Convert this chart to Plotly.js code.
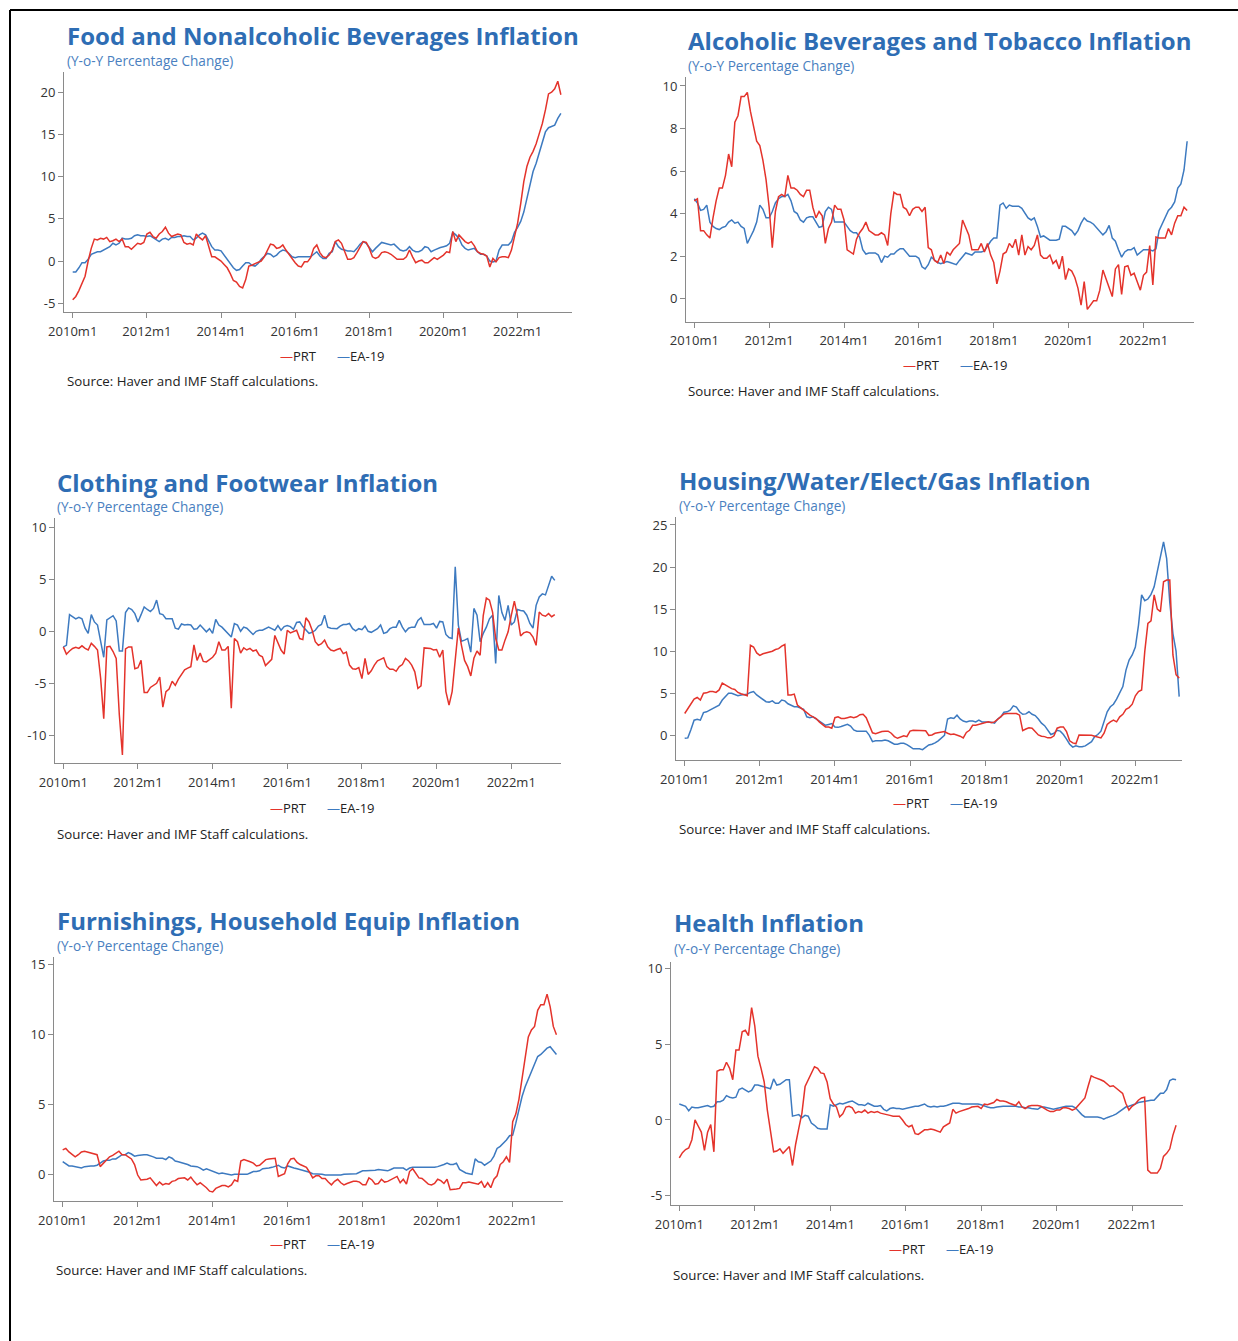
<!DOCTYPE html>
<html>
<head>
<meta charset="utf-8">
<script src="https://cdn.plot.ly/plotly-3.0.1.min.js"></script>
<style>
  html, body { margin: 0; padding: 0; background: #fff; }
  #chart { width: 1238px; height: 1341px; }
</style>
</head>
<body>
<div id="chart"></div>
<script>
'use strict';

// Monthly y-o-y % change, 2010m1 .. 2023m3 (159 months)
const foodPRT = [
  -4.6, -4.2, -3.5, -2.7, -1.8, 0.0, 1.5, 2.6, 2.5, 2.7, 2.6, 2.8,
  2.3, 2.4, 2.6, 2.3, 2.6, 1.7, 1.7, 1.4, 1.8, 2.1, 2.0, 2.2,
  3.2, 3.4, 2.9, 2.7, 3.2, 3.5, 4.0, 3.3, 2.9, 3.1, 3.2, 3.1,
  2.2, 2.0, 2.1, 1.9, 3.2, 2.8, 2.5, 3.0, 1.8, 0.5, 0.5, 0.3,
  0.0, -0.4, -0.8, -1.5, -2.3, -2.5, -3.0, -3.2, -2.2, -0.6, -0.5, -0.3,
  -0.1, 0.0, 0.5, 1.3, 2.0, 1.9, 1.5, 1.6, 1.9, 1.3, 0.8, 0.2,
  -0.2, -0.6, -0.7, -0.1, -0.1, 0.4, 1.5, 1.9, 1.0, 0.5, 0.4, 0.7,
  1.3, 2.3, 2.5, 2.1, 1.1, 0.2, 0.2, 0.4, 1.0, 1.7, 2.3, 2.2,
  1.5, 0.5, 0.3, 0.5, 1.0, 1.1, 1.0, 0.8, 0.5, 0.2, 0.2, 0.2,
  0.5, 1.3, 0.5, -0.2, 0.0, 0.1, -0.2, -0.2, 0.1, 0.4, 0.2, 0.4,
  0.7, 1.1, 1.0, 3.5, 2.3, 3.1, 2.7, 2.3, 2.1, 2.3, 1.8, 1.1,
  0.9, 0.8, 0.6, -0.7, 0.3, -0.1, 0.4, 0.5, 0.5, 0.4, 1.3, 3.1,
  4.5, 6.8, 9.4, 11.2, 12.3, 13.0, 13.9, 15.1, 16.3, 17.9, 19.8, 20.0,
  20.4, 21.3, 19.7
];
const foodEA = [
  -1.3, -1.3, -0.8, -0.2, -0.2, 0.2, 0.8, 1.0, 1.1, 1.1, 1.3, 1.5,
  1.7, 2.1, 1.9, 2.1, 2.7, 2.6, 2.6, 2.7, 3.0, 3.1, 3.0, 3.0,
  2.9, 3.0, 2.8, 2.6, 2.3, 2.6, 2.7, 2.5, 2.8, 2.8, 2.9, 2.9,
  3.0, 2.9, 2.9, 2.5, 2.7, 3.1, 3.3, 3.1, 2.3, 1.7, 1.3, 1.3,
  1.2, 0.7, 0.3, -0.3, -0.8, -1.1, -1.0, -0.6, -0.2, -0.2, -0.5, -0.6,
  -0.3, 0.2, 0.6, 0.9, 0.8, 0.5, 0.7, 1.1, 1.3, 1.2, 0.9, 0.5,
  0.4, 0.5, 0.5, 0.5, 0.5, 0.5, 0.8, 1.1, 0.6, 0.3, 0.3, 0.9,
  1.1, 2.3, 1.7, 1.4, 1.3, 1.2, 1.2, 1.1, 1.5, 2.0, 2.3, 2.1,
  1.6, 1.1, 1.5, 1.9, 2.2, 2.1, 2.0, 1.9, 2.0, 1.6, 1.3, 1.2,
  1.3, 1.7, 1.3, 1.1, 1.1, 1.3, 1.7, 1.6, 1.1, 1.3, 1.5, 1.6,
  1.7, 1.8, 2.1, 3.4, 3.1, 2.7, 1.9, 1.5, 1.3, 1.4, 1.5, 1.1,
  0.8, 0.8, 0.6, 0.0, -0.1, 0.0, 1.3, 1.9, 1.9, 1.9, 2.3, 3.4,
  4.0, 4.7, 5.8, 7.4, 9.2, 10.6, 11.6, 12.8, 14.2, 15.3, 15.8, 16.0,
  16.1, 16.9, 17.5
];

const alcPRT = [
  4.6, 4.7, 3.2, 3.2, 3.0, 2.85, 3.8, 4.6, 5.2, 5.2, 5.8, 6.8,
  6.2, 8.3, 8.6, 9.5, 9.5, 9.7, 8.8, 8.1, 7.4, 7.2, 6.5, 5.6,
  4.3, 2.4, 4.1, 4.8, 4.9, 4.8, 5.8, 5.2, 5.2, 5.1, 4.9, 4.8,
  5.1, 5.1, 4.3, 3.8, 4.1, 3.9, 2.6, 3.3, 3.6, 4.4, 4.2, 4.2,
  3.7, 2.3, 2.2, 2.1, 2.8, 3.1, 3.3, 3.6, 3.2, 3.1, 3.0, 3.0,
  3.1, 3.0, 2.5, 4.0, 5.0, 4.9, 4.9, 4.3, 4.2, 3.9, 4.2, 4.3,
  4.3, 4.1, 4.3, 2.4, 2.3, 1.8, 1.7, 2.05, 1.65, 2.2, 2.05, 2.3,
  2.45, 2.6, 3.7, 3.3, 3.0, 2.3, 2.3, 2.3, 2.6, 2.2, 2.6, 2.05,
  1.7, 0.7, 1.3, 2.1, 2.2, 2.6, 2.4, 2.8, 2.05, 3.0, 2.05, 2.45,
  2.3, 2.5, 3.0, 2.05, 1.9, 1.9, 2.05, 1.65, 1.8, 1.4, 2.0, 0.9,
  1.4, 1.3, 1.0, 0.5, -0.3, 0.8, -0.5, -0.3, -0.1, -0.1, 0.4, 1.35,
  0.95, 0.5, 0.1, 1.4, 1.6, 0.2, 1.5, 1.55, 1.1, 1.2, 0.8, 0.4,
  1.1, 1.25, 2.5, 0.65, 2.9, 2.85, 2.85, 2.85, 3.3, 3.0, 3.55, 3.9,
  3.9, 4.3, 4.15
];
const alcEA = [
  4.7, 4.5, 4.15, 4.2, 4.4, 3.6, 3.4, 3.3, 3.25, 3.35, 3.4, 3.6,
  3.7, 3.55, 3.6, 3.4, 3.3, 2.6, 2.9, 3.2, 3.6, 4.4, 4.2, 3.8,
  3.8, 4.1, 4.5, 4.7, 4.8, 4.8, 4.9, 4.6, 4.1, 4.0, 3.7, 3.6,
  3.8, 3.85, 3.85, 3.6, 3.35, 3.4, 4.1, 4.3, 4.2, 3.6, 3.6, 3.6,
  3.6, 3.4, 3.2, 3.1, 3.1, 2.9, 2.3, 2.1, 2.15, 2.15, 2.15, 2.05,
  1.7, 2.0, 1.95, 2.1, 2.1, 2.25, 2.35, 2.35, 2.2, 2.0, 2.0, 2.0,
  1.9, 1.5, 1.4, 1.6, 1.95, 1.8, 1.7, 1.65, 1.7, 1.75, 1.7, 1.65,
  1.6, 1.8, 2.0, 2.15, 2.1, 2.05, 2.2, 2.2, 2.2, 2.25, 2.5, 2.7,
  2.85, 2.85, 4.4, 4.5, 4.25, 4.4, 4.35, 4.35, 4.35, 4.25, 4.0, 3.8,
  3.7, 3.8, 3.4, 2.9, 2.95, 2.85, 2.75, 2.75, 2.75, 2.8, 3.4, 3.4,
  3.3, 3.2, 3.0, 3.2, 3.55, 3.8, 3.65, 3.6, 3.5, 3.35, 3.2, 3.0,
  3.15, 3.45, 2.85, 2.7, 2.3, 1.95, 2.2, 2.3, 2.3, 2.4, 2.05, 2.2,
  2.3, 2.3, 2.3, 2.25, 2.35, 3.2, 3.5, 3.85, 4.15, 4.3, 4.55, 5.2,
  5.4, 6.05, 7.4
];

const clothPRT = [
  -1.5, -2.2, -1.9, -1.65, -1.55, -1.65, -1.4, -1.65, -1.8, -1.15, -1.45, -1.8,
  -4.5, -8.4, -1.5, -1.45, -1.95, -2.6, -8.0, -11.9, -1.7, -1.5, -1.5, -3.6,
  -3.5, -2.8, -5.9, -5.9, -5.4, -5.2, -5.0, -4.4, -7.3, -5.8, -5.55, -4.8,
  -5.2, -4.6, -4.2, -3.7, -3.55, -3.4, -1.3, -2.8, -2.1, -2.9, -2.95, -2.7,
  -2.5, -2.1, -1.0, -1.8, -1.8, -1.45, -7.4, -0.7, -1.0, -2.1, -1.6, -1.8,
  -1.65, -1.9, -1.8, -2.3, -2.45, -3.3, -2.95, -2.7, -0.4, -1.2, -1.8, -2.2,
  0.1, -0.15, 0.0, 0.1, -0.7, -0.8, 1.3, 0.9, 0.1, -1.0, -1.35, -1.2,
  -0.85, -1.5, -1.8, -1.9, -1.75, -1.65, -2.15, -2.0, -3.25, -3.6, -3.65, -3.5,
  -4.55, -2.6, -4.15, -3.8, -3.25, -2.85, -2.7, -2.55, -3.4, -3.65, -3.65, -3.85,
  -3.4, -3.2, -2.6, -2.85, -3.25, -3.9, -5.5, -5.25, -1.6, -1.65, -1.65, -1.8,
  -1.75, -2.5, -1.8, -5.8, -7.1, -5.8, -2.95, 0.3, -1.35, -2.8, -3.4, -4.3,
  -2.6, -1.9, -2.3, 1.5, 3.2, 3.0, 1.85, -0.7, -1.8, -1.8, -0.85, -0.05,
  1.5, 2.9, 1.5, -0.45, -0.15, -0.05, -0.15, -0.55, -1.35, 1.85, 1.55, 1.45,
  1.7, 1.4, 1.6
];
const clothEA = [
  -1.5, -1.35, 1.6, 1.4, 1.2, 1.35, 1.2, 0.3, -0.2, 1.6, 0.9, 0.6,
  -1.0, -2.5, 1.1, 1.3, 1.5, 1.0, -1.9, -1.9, 1.8, 2.25, 2.1, 1.7,
  0.9, 1.6, 2.35, 2.1, 1.9, 2.2, 3.0, 1.7, 1.6, 1.2, 1.2, 1.2,
  0.3, 0.2, 0.7, 0.6, 0.65, 0.6, 0.2, 0.25, 0.6, 0.25, -0.05, 0.25,
  -0.2, 1.15, 0.6, 0.4, 0.1, -0.2, -0.55, 0.75, 0.6, 0.0, 0.4, 0.3,
  0.0, -0.3, 0.0, 0.1, 0.1, 0.25, 0.4, 0.25, 0.1, 0.55, 0.1, 0.45,
  0.55, 0.45, 0.2, 0.85, 0.9, 0.45, 0.1, -0.2, -0.1, 0.1, 0.5, 0.65,
  1.55, 0.4, 0.3, 0.3, 0.25, 0.5, 0.65, 0.65, 0.75, 0.25, 0.05, 0.25,
  0.15, 0.5, 0.0, -0.1, 0.05, 0.25, 0.6, -0.2, -0.1, 0.25, 0.4, 0.4,
  1.05, 0.4, -0.05, 0.3, 0.4, 0.4, 1.05, 1.3, 0.65, 0.65, 0.65, 0.75,
  0.3, 0.95, 0.9, -0.3, -0.6, -0.7, 6.2, 0.6, -0.95, -0.85, -0.7, -2.0,
  2.2, 1.55, -1.0, -0.2, 0.4, 1.2, 1.55, -3.1, 3.45, 1.8, 1.05, 2.5,
  0.6, 0.9, 2.1, 2.0, 1.95, 1.55, 0.75, 0.3, 2.5, 3.3, 3.6, 3.5,
  4.5, 5.3, 4.9
];

const housPRT = [
  2.6, 3.2, 3.8, 4.3, 4.5, 4.2, 5.0, 5.05, 5.2, 5.2, 5.1, 5.4,
  6.2, 6.0, 5.7, 5.55, 5.45, 5.1, 4.95, 4.85, 4.7, 10.7, 10.5, 9.8,
  9.5, 9.7, 9.8, 9.9, 10.0, 10.2, 10.3, 10.6, 10.8, 4.8, 4.8, 4.9,
  3.6, 3.3, 3.0, 2.6, 2.4, 2.2, 2.0, 1.6, 1.3, 1.0, 1.0, 0.85,
  2.1, 2.2, 2.0, 2.0, 2.1, 2.2, 2.1, 2.2, 2.45, 2.5, 2.1, 1.2,
  0.3, 0.2, 0.35, 0.45, 0.5, 0.5, 0.25, -0.15, -0.35, -0.2, -0.05, -0.15,
  0.5, 0.6, 0.6, 0.6, 0.6, 0.55, 0.0, 0.05, 0.25, 0.3, 0.4, 0.45,
  0.25, 0.1, 0.15, 0.05, -0.1, -0.3, 0.35, 0.6, 1.2, 1.2, 1.3, 1.4,
  1.5, 1.6, 1.5, 1.6, 1.9, 2.2, 2.55, 2.6, 2.6, 2.6, 2.6, 2.4,
  0.55, 0.75, 0.9, 0.85, 0.5, 0.05, -0.1, -0.15, -0.3, -0.3, -0.05, 0.85,
  1.0, 1.0, 0.45, -0.65, -0.9, -1.0, 0.05, 0.05, 0.05, 0.0, 0.0, -0.1,
  -0.2, -0.3, 0.25, 1.3, 1.6, 1.8, 1.6, 2.2, 2.5, 3.1, 3.3, 3.7,
  4.7, 5.2, 5.4, 9.95, 13.3, 13.6, 16.7, 15.0, 14.7, 18.25, 18.45, 18.45,
  9.55, 7.2, 6.8
];
const housEA = [
  -0.35, -0.3, 0.7, 1.8, 1.9, 1.8, 2.7, 2.8, 3.0, 3.2, 3.3, 3.6,
  4.2, 4.6, 5.0, 5.0, 4.8, 4.7, 4.8, 4.85, 4.9, 5.1, 5.2, 4.8,
  4.5, 4.3, 4.0, 3.95, 4.1, 3.8, 3.8, 4.2, 4.1, 3.75, 3.55, 3.4,
  3.4, 3.2, 3.1, 2.2, 2.1, 2.2, 1.95, 1.8, 1.5, 1.2, 1.3, 1.4,
  1.0, 0.95, 1.05, 1.2, 1.3, 1.1, 0.65, 0.5, 0.5, 0.5, 0.5, 0.0,
  -0.75, -0.65, -0.65, -0.65, -0.55, -0.65, -0.85, -1.05, -1.05, -0.95, -0.95, -1.1,
  -1.35, -1.6, -1.6, -1.6, -1.7, -1.45, -1.15, -1.05, -0.9, -0.65, -0.3, 0.0,
  1.95, 2.1, 2.0, 2.4, 1.95, 1.7, 1.6, 1.7, 1.7, 1.6, 1.8, 1.6,
  1.6, 1.6, 1.55, 1.45, 1.95, 2.2, 2.75, 2.8, 3.0, 3.5, 3.35, 2.8,
  2.5, 2.55, 2.8, 2.5, 2.35, 1.95, 1.45, 1.15, 0.65, 0.1, 0.25, 0.6,
  0.5, 0.1, -0.45, -1.05, -1.4, -1.25, -1.35, -1.35, -1.25, -1.05, -0.75, -0.15,
  0.1, 0.5, 1.7, 2.8, 3.4, 3.7, 4.3, 5.1, 5.8, 7.75, 8.95, 9.55,
  10.5, 13.1, 16.7, 16.0, 16.2, 16.75, 17.65, 19.45, 21.35, 23.0, 21.0, 15.8,
  12.1, 10.0, 4.6
];

const furnPRT = [
  1.75, 1.85, 1.6, 1.4, 1.25, 1.4, 1.6, 1.65, 1.6, 1.5, 1.45, 1.4,
  0.55, 0.8, 1.0, 1.25, 1.35, 1.5, 1.65, 1.4, 1.4, 1.25, 1.1, 0.7,
  -0.05, -0.4, -0.4, -0.35, -0.25, -0.5, -0.8, -0.55, -0.75, -0.65, -0.7, -0.5,
  -0.45, -0.3, -0.25, -0.25, -0.4, -0.2, -0.5, -0.75, -0.6, -0.75, -0.95, -1.2,
  -1.25, -1.0, -0.9, -0.8, -0.8, -0.9, -0.75, -0.4, -0.5, 0.95, 1.05, 1.0,
  0.9, 0.8, 0.6, 0.65, 0.85, 1.05, 1.1, 1.1, 1.15, -0.15, -0.05, 0.05,
  0.75, 1.1, 1.15, 0.85, 0.7, 0.6, 0.5, 0.15, -0.25, -0.1, -0.1, -0.3,
  -0.3, -0.55, -0.75, -0.5, -0.35, -0.6, -0.75, -0.65, -0.55, -0.5, -0.5, -0.55,
  -0.75, -0.75, -0.25, -0.4, -0.7, -0.65, -0.35, -0.55, -0.5, -0.4, -0.3, -0.15,
  -0.6, -0.35, -0.7, 0.2, 0.4, 0.05, -0.25, -0.3, -0.5, -0.7, -0.75, -0.65,
  -0.35, -0.45, -0.65, -0.35, -1.1, -1.1, -1.05, -1.0, -0.6, -0.6, -0.55, -0.6,
  -0.65, -0.7, -0.5, -0.95, -0.6, -0.95, -0.35, -0.1, 0.7, 0.9, 1.25, 0.85,
  3.75, 4.3, 5.35, 6.85, 8.5, 9.8, 10.3, 10.55, 11.7, 12.1, 12.1, 12.85,
  11.95, 10.55, 9.95
];
const furnEA = [
  0.9, 0.75, 0.6, 0.6, 0.55, 0.5, 0.45, 0.55, 0.6, 0.6, 0.6, 0.65,
  0.8, 0.95, 1.0, 1.0, 1.1, 1.1, 1.25, 1.4, 1.4, 1.55, 1.45, 1.3,
  1.35, 1.4, 1.4, 1.4, 1.35, 1.25, 1.15, 1.15, 1.15, 1.05, 1.25, 1.15,
  0.95, 0.9, 0.85, 0.8, 0.7, 0.6, 0.6, 0.55, 0.45, 0.3, 0.4, 0.3,
  0.25, 0.1, 0.05, 0.1, 0.05, 0.0, -0.05, 0.0, 0.0, 0.0, -0.05, 0.0,
  0.1, 0.2, 0.2, 0.25, 0.4, 0.4, 0.45, 0.5, 0.55, 0.65, 0.5, 0.45,
  0.6, 0.5, 0.45, 0.4, 0.35, 0.3, 0.25, 0.15, 0.05, 0.05, 0.0, 0.0,
  -0.05, -0.05, -0.1, -0.1, -0.1, -0.05, 0.0, 0.0, 0.05, 0.05, 0.05, 0.15,
  0.25, 0.25, 0.25, 0.25, 0.3, 0.35, 0.3, 0.25, 0.25, 0.35, 0.45, 0.45,
  0.45, 0.45, 0.3, 0.45, 0.5, 0.5, 0.45, 0.45, 0.45, 0.5, 0.5, 0.5,
  0.55, 0.6, 0.7, 0.8, 0.7, 0.7, 0.8, 0.35, 0.2, 0.1, 0.05, 0.0,
  1.1, 0.9, 0.85, 0.65, 0.8, 0.95, 1.3, 1.85, 2.0, 2.2, 2.45, 2.75,
  2.8, 3.65, 4.6, 5.55, 6.25, 6.8, 7.3, 7.85, 8.4, 8.55, 8.75, 9.0,
  9.1, 8.85, 8.55
];

const healthPRT = [
  -2.5, -2.15, -1.95, -1.85, -1.3, 0.0, -0.4, -0.8, -2.0, -0.8, -0.3, -2.1,
  3.2, 3.3, 3.3, 3.8, 3.4, 2.65, 4.6, 4.6, 5.8, 5.9, 5.55, 7.4,
  6.2, 4.2, 3.4, 2.5, 0.65, -0.9, -2.1, -2.05, -1.9, -2.2, -2.0, -1.75,
  -3.0, -1.6, -0.55, 0.45, 2.2, 2.6, 3.0, 3.5, 3.4, 3.1, 3.05, 2.5,
  1.4, 1.05, 0.85, 0.2, 0.4, 0.85, 0.9, 0.8, 0.45, 0.55, 0.5, 0.65,
  0.45, 0.55, 0.5, 0.55, 0.45, 0.4, 0.4, 0.3, 0.25, 0.25, 0.25, 0.0,
  -0.3, -0.45, -0.35, -0.9, -0.95, -0.8, -0.65, -0.65, -0.6, -0.65, -0.7, -0.8,
  -0.45, -0.3, -0.2, 0.7, 0.45, 0.55, 0.6, 0.7, 0.75, 0.85, 0.9, 0.9,
  0.75, 1.05, 1.0, 1.1, 1.15, 1.35, 1.25, 1.25, 1.2, 1.1, 1.0, 0.95,
  1.2, 0.85, 0.75, 0.9, 0.95, 0.95, 0.95, 0.9, 0.75, 0.65, 0.55, 0.55,
  0.65, 0.65, 0.8, 0.8, 0.75, 0.65, 0.75, 1.0, 1.2, 1.45, 2.2, 2.9,
  2.8, 2.75, 2.65, 2.55, 2.4, 2.2, 2.25, 2.1, 1.9, 1.75, 1.1, 0.65,
  0.9, 1.05, 1.3, 1.45, 1.5, -3.3, -3.5, -3.5, -3.5, -3.2, -2.4, -2.2,
  -1.9, -1.0, -0.35
];
const healthEA = [
  1.05, 0.95, 0.9, 0.6, 0.85, 0.8, 0.8, 0.85, 0.9, 0.95, 0.85, 0.9,
  1.2, 1.2, 1.3, 1.6, 1.5, 1.45, 1.5, 2.0, 2.1, 2.0, 1.85, 1.95,
  2.3, 2.3, 2.25, 2.2, 2.15, 2.05, 2.7, 2.3, 2.35, 2.5, 2.65, 2.65,
  0.25, 0.3, 0.35, 0.15, 0.3, 0.25, -0.2, -0.35, -0.55, -0.6, -0.6, -0.6,
  1.0, 0.9, 1.0, 1.1, 1.05, 1.15, 1.2, 1.25, 1.1, 1.0, 1.0, 0.95,
  1.1, 1.0, 0.9, 0.9, 0.95, 0.7, 0.6, 0.75, 0.8, 0.75, 0.75, 0.7,
  0.75, 0.85, 0.9, 0.9, 0.9, 1.0, 1.05, 0.9, 0.85, 0.9, 0.85, 0.9,
  0.9, 0.95, 1.05, 1.1, 1.1, 1.1, 1.05, 1.05, 1.05, 1.05, 1.05, 1.05,
  1.0, 0.9, 0.85, 0.8, 0.8, 0.85, 0.9, 0.9, 0.9, 0.9, 0.9, 0.9,
  0.85, 0.85, 0.8, 0.8, 0.75, 0.7, 0.7, 0.85, 0.85, 0.8, 0.75, 0.7,
  0.75, 0.8, 0.9, 0.9, 0.9, 0.9, 0.8, 0.55, 0.35, 0.2, 0.2, 0.2,
  0.2, 0.2, 0.15, 0.05, 0.15, 0.2, 0.3, 0.4, 0.55, 0.75, 0.85, 0.9,
  0.95, 1.05, 1.15, 1.2, 1.2, 1.25, 1.3, 1.3, 1.55, 1.75, 1.75, 2.0,
  2.6, 2.7, 2.65
];

const xTickLabels = ['2010m1', '2012m1', '2014m1', '2016m1', '2018m1', '2020m1', '2022m1'];
const seriesNames = ['PRT', 'EA-19'];
const subtitle = '(Y-o-Y Percentage Change)';
const sourceNote = 'Source: Haver and IMF Staff calculations.';

const W = 1238;
const H = 1341;
const RED = '#e4332b';
const BLUE = '#3d7ac0';
const TITLE_BLUE = '#2e6db4';
const SUB_BLUE = '#4a7fc0';
const FONT = '"Open Sans", "Noto Sans", sans-serif';

// pixel boxes of each plot area and where its texts sit
const panels = [
  {title: 'Food and Nonalcoholic Beverages Inflation', prt: foodPRT, ea: foodEA,
    box: [64, 572, 72, 312], xr: [-2.82, 161.6], yr: [-6.04, 22.4], yticks: [-5, 0, 5, 10, 15, 20],
    tx: 67, ty: 36, sy: 61, lx: 280, ly: 356, srcx: 67, srcy: 381},
  {title: 'Alcoholic Beverages and Tobacco Inflation', prt: alcPRT, ea: alcEA,
    box: [686, 1194, 77, 321.7], xr: [-2.66, 160.2], yr: [-1.08, 10.42], yticks: [0, 2, 4, 6, 8, 10],
    tx: 688, ty: 41, sy: 66, lx: 903, ly: 365, srcx: 688, srcy: 391},
  {title: 'Clothing and Footwear Inflation', prt: clothPRT, ea: clothEA,
    box: [55, 561, 518, 763.3], xr: [-2.67, 160.0], yr: [-12.7, 10.9], yticks: [-10, -5, 0, 5, 10],
    tx: 57, ty: 482, sy: 507, lx: 270, ly: 808, srcx: 57, srcy: 834},
  {title: 'Housing/Water/Elect/Gas Inflation', prt: housPRT, ea: housEA,
    box: [676, 1182, 517, 760], xr: [-2.78, 158.9], yr: [-2.93, 25.95], yticks: [0, 5, 10, 15, 20, 25],
    tx: 679, ty: 480, sy: 505, lx: 893, ly: 803, srcx: 679, srcy: 829},
  {title: 'Furnishings, Household Equip Inflation', prt: furnPRT, ea: furnEA,
    box: [54, 563, 957, 1201], xr: [-2.78, 160.1], yr: [-1.9, 15.5], yticks: [0, 5, 10, 15],
    tx: 57, ty: 920, sy: 945, lx: 270, ly: 1244, srcx: 56, srcy: 1270},
  {title: 'Health Inflation', prt: healthPRT, ea: healthEA,
    box: [671, 1183, 962, 1205], xr: [-2.64, 160.2], yr: [-5.6, 10.4], yticks: [-5, 0, 5, 10],
    tx: 674, ty: 922, sy: 948, lx: 889, ly: 1249, srcx: 673, srcy: 1275},
];

const px = x => x / W;
const py = y => 1 - y / H;

// annotations carry ~2px of padding, so pull them left to land on the given pixel
function textNote(text, x, y, font) {
  return {
    text, xref: 'paper', yref: 'paper', x: px(x - 2), y: py(y),
    xanchor: 'left', yanchor: 'middle', showarrow: false, font,
  };
}

function main() {
  const months = foodPRT.map((_, i) => i);
  const xTickVals = xTickLabels.map((_, i) => i * 24);
  const traces = [];
  const annotations = [];
  const layout = {
    width: W, height: H,
    margin: {l: 0, r: 0, t: 0, b: 0},
    paper_bgcolor: '#fff', plot_bgcolor: '#fff',
    showlegend: false,
    font: {family: FONT, size: 13, color: '#333'},
    shapes: [
      {type: 'line', xref: 'paper', yref: 'paper', x0: px(10), x1: 1, y0: py(10), y1: py(10),
        line: {color: '#000', width: 2}},
      {type: 'line', xref: 'paper', yref: 'paper', x0: px(10), x1: px(10), y0: py(10), y1: 0,
        line: {color: '#000', width: 2}},
    ],
  };

  panels.forEach((p, i) => {
    const n = i === 0 ? '' : String(i + 1);
    const [l, r, t, b] = p.box;
    layout['xaxis' + n] = {
      domain: [px(l), px(r)], anchor: 'y' + n, range: p.xr,
      tickvals: xTickVals, ticktext: xTickLabels,
      showline: true, linecolor: '#8a8a8a', linewidth: 1,
      ticks: 'outside', ticklen: 5, tickcolor: '#8a8a8a', ticklabelstandoff: 2,
      showgrid: false, zeroline: false,
      tickfont: {family: FONT, size: 13, color: '#333'},
    };
    layout['yaxis' + n] = {
      domain: [py(b), py(t)], anchor: 'x' + n, range: p.yr,
      tickvals: p.yticks, ticktext: p.yticks.map(String),
      showline: true, linecolor: '#8a8a8a', linewidth: 1,
      ticks: 'outside', ticklen: 5, tickcolor: '#8a8a8a',
      showgrid: false, zeroline: false,
      tickfont: {family: FONT, size: 13, color: '#333'},
    };
    traces.push({
      x: months, y: p.ea, type: 'scatter', mode: 'lines', name: seriesNames[1],
      xaxis: 'x' + n, yaxis: 'y' + n, line: {color: BLUE, width: 1.5},
    });
    traces.push({
      x: months, y: p.prt, type: 'scatter', mode: 'lines', name: seriesNames[0],
      xaxis: 'x' + n, yaxis: 'y' + n, line: {color: RED, width: 1.5},
    });

    annotations.push(textNote(p.title, p.tx, p.ty,
      {family: FONT, size: 24, color: TITLE_BLUE, weight: 'bold'}));
    annotations.push(textNote(subtitle, p.tx, p.sy, {family: FONT, size: 13.6, color: SUB_BLUE}));
    annotations.push(textNote(`<span style="color:${RED}">—</span>${seriesNames[0]}`, p.lx, p.ly,
      {family: FONT, size: 13, color: '#222'}));
    annotations.push(textNote(`<span style="color:${BLUE}">—</span>${seriesNames[1]}`, p.lx + 57, p.ly,
      {family: FONT, size: 13, color: '#222'}));
    annotations.push(textNote(sourceNote, p.srcx, p.srcy, {family: FONT, size: 13.3, color: '#222'}));
  });

  layout.annotations = annotations;
  Plotly.newPlot('chart', traces, layout, {displayModeBar: false, staticPlot: true});
}

main();
</script>
</body>
</html>
